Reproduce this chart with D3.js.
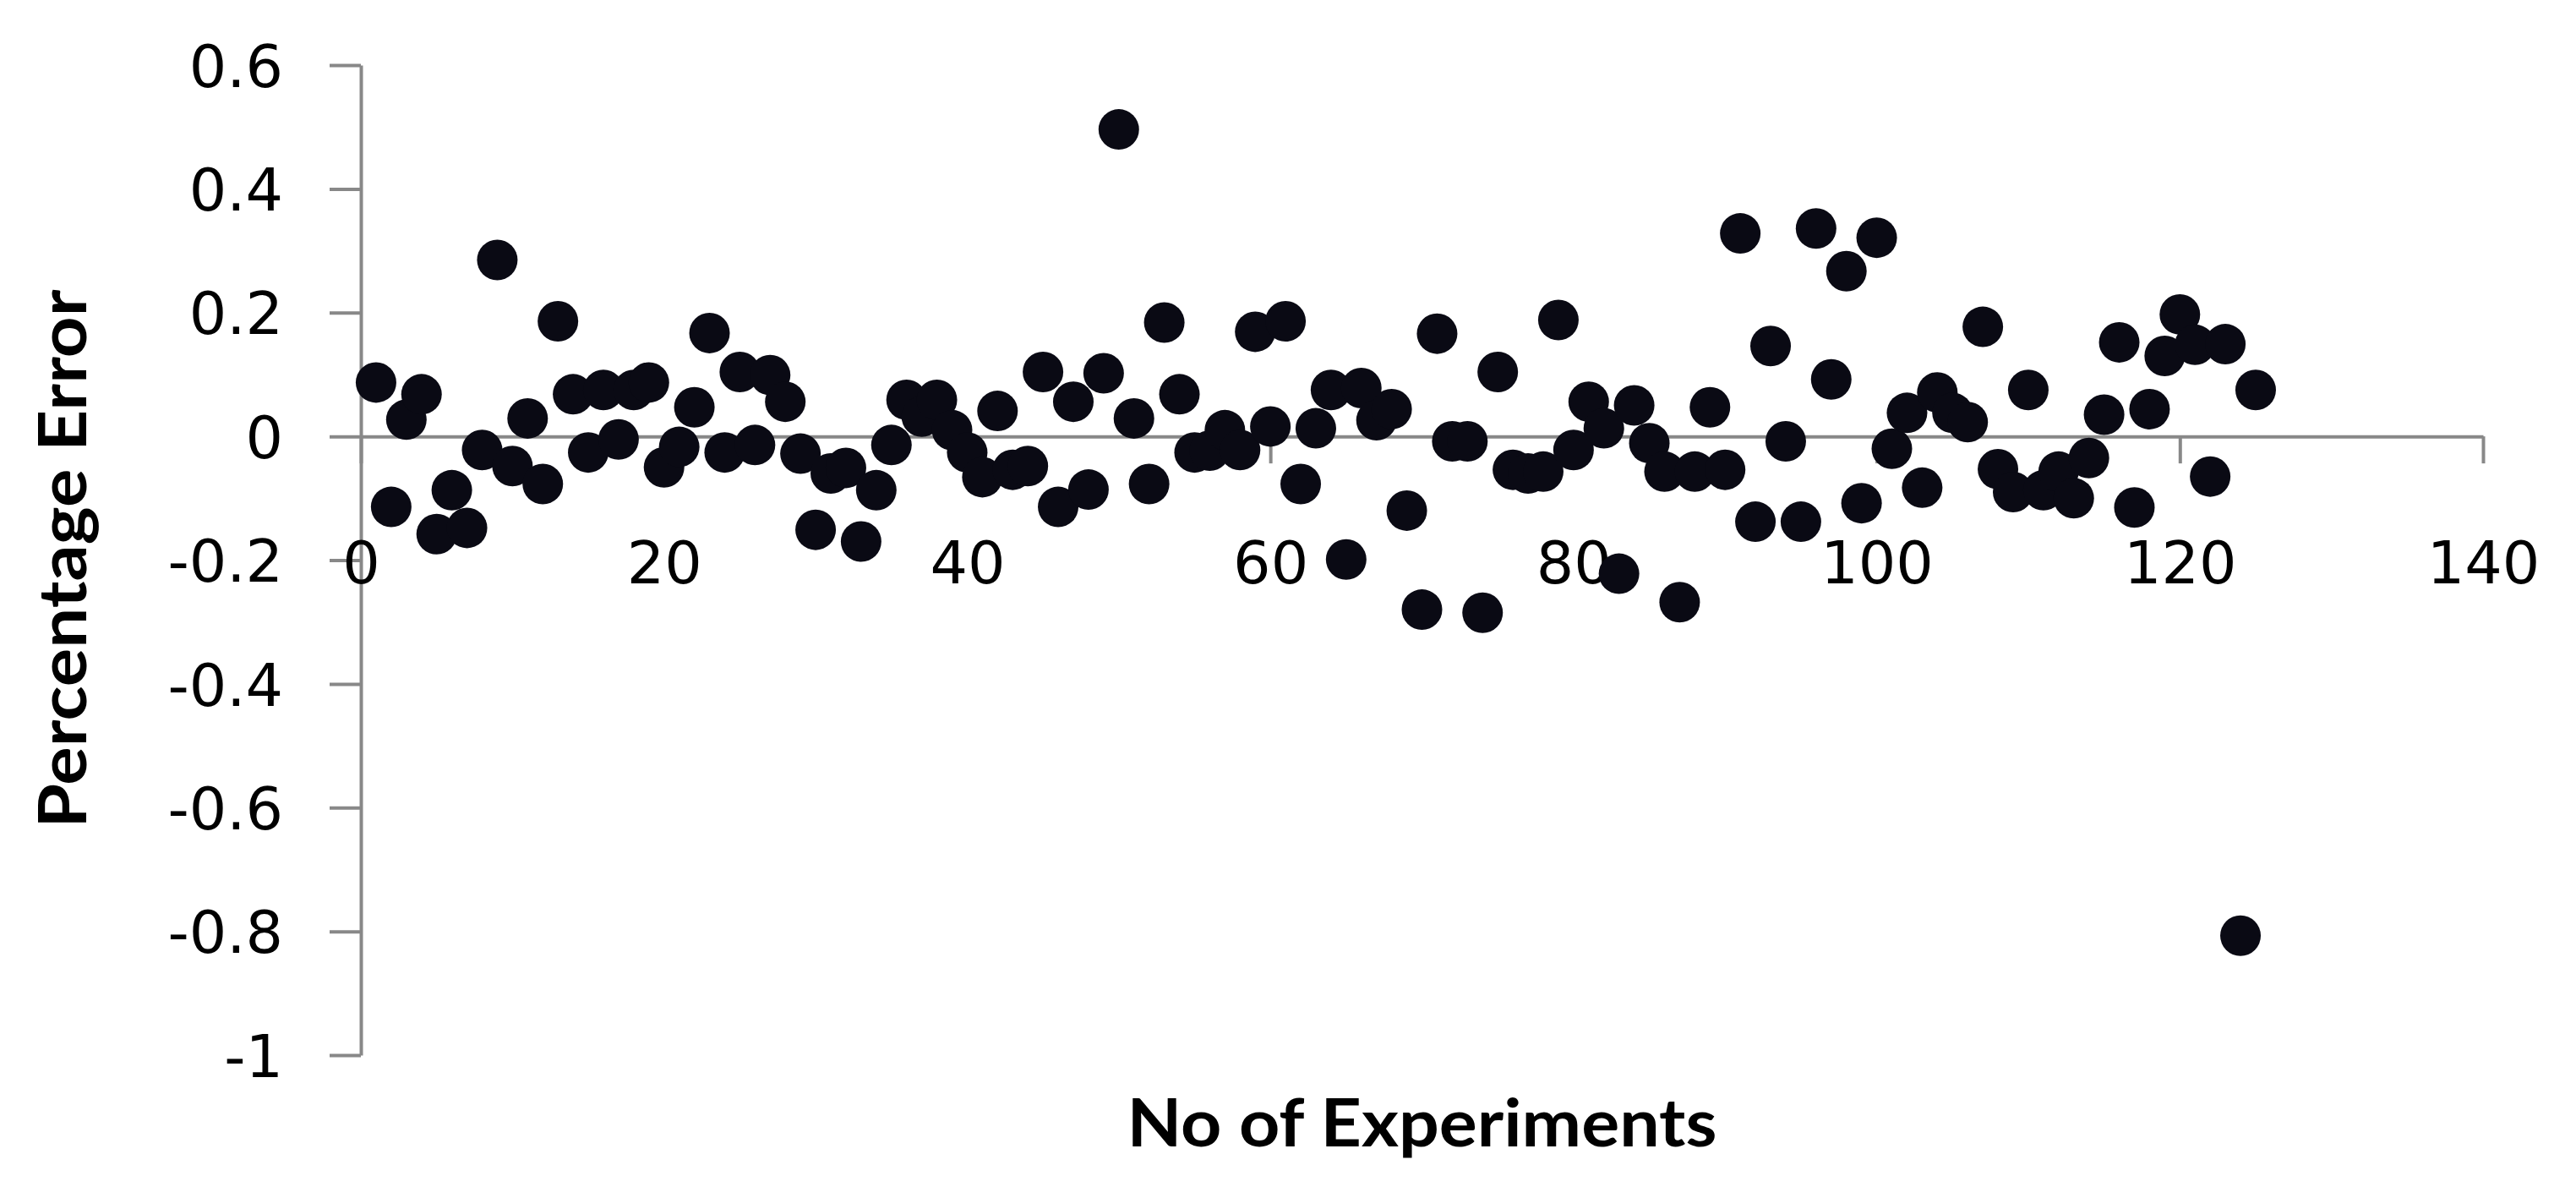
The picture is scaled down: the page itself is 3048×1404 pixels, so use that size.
<!DOCTYPE html>
<html>
<head>
<meta charset="utf-8">
<script src="https://cdn.jsdelivr.net/npm/d3@7"></script>
<style>
  body { margin: 0; background: #fff; }
  .axis path, .axis line { stroke: #888; stroke-width: 4; }
  .axis text { font-family: 'DejaVu Sans', Verdana, sans-serif; font-size: 70px; fill: #000; }
  .axis-title { font-family: Lato, 'Open Sans', sans-serif; font-weight: 700; font-size: 78px; fill: #000; }
</style>
</head>
<body>
<svg id="chart"></svg>
<script>
// Percentage error for each experiment (experiment number = position in list + 1)
const errorValues = [
  0.087, -0.114, 0.027, 0.068, -0.158, -0.087, -0.148, -0.022, 0.285, -0.048,
  0.029, -0.077, 0.186, 0.068, -0.026, 0.075, -0.005, 0.075, 0.087, -0.050,
  -0.017, 0.047, 0.167, -0.026, 0.104, -0.014, 0.099, 0.056, -0.028, -0.151,
  -0.060, -0.051, -0.170, -0.087, -0.014, 0.059, 0.032, 0.059, 0.010, -0.026,
  -0.066, 0.041, -0.054, -0.048, 0.104, -0.114, 0.056, -0.086, 0.102, 0.496,
  0.029, -0.077, 0.184, 0.068, -0.026, -0.023, 0.010, -0.022, 0.169, 0.016,
  0.186, -0.077, 0.013, 0.075, -0.199, 0.078, 0.026, 0.044, -0.120, -0.280,
  0.166, -0.008, -0.008, -0.285, 0.104, -0.054, -0.060, -0.057, 0.188, -0.022,
  0.056, 0.013, -0.222, 0.050, -0.011, -0.057, -0.268, -0.057, 0.047, -0.054,
  0.328, -0.138, 0.146, -0.008, -0.138, 0.336, 0.092, 0.267, -0.108, 0.321,
  -0.020, 0.038, -0.083, 0.071, 0.038, 0.023, 0.177, -0.053, -0.090, 0.075,
  -0.087, -0.057, -0.100, -0.035, 0.035, 0.152, -0.115, 0.044, 0.130, 0.197,
  0.148, -0.065, 0.149, -0.807, 0.075
];

const xTickValues = [0, 20, 40, 60, 80, 100, 120, 140];
const xTickLabels = ['0', '20', '40', '60', '80', '100', '120', '140'];
const yTickValues = [0.6, 0.4, 0.2, 0, -0.2, -0.4, -0.6, -0.8, -1];
const yTickLabels = ['0.6', '0.4', '0.2', '0', '-0.2', '-0.4', '-0.6', '-0.8', '-1'];
const xTitle = 'No of Experiments';
const yTitle = 'Percentage Error';

class ErrorScatter {

    constructor(_config, _data) {
        this.config = {
            parentElement: _config.parentElement,
            containerWidth: 3048,
            containerHeight: 1404,
            margin: {top: 77, right: 110, bottom: 156, left: 427},
            pointRadius: 24
        };
        this.data = _data;
        this.initVis();
    }

    initVis() {
        let vis = this;
        const m = vis.config.margin;

        vis.width = vis.config.containerWidth - m.left - m.right;
        vis.height = vis.config.containerHeight - m.top - m.bottom;

        vis.svg = d3.select(vis.config.parentElement)
            .attr('width', vis.config.containerWidth)
            .attr('height', vis.config.containerHeight);

        vis.svg.append('rect')
            .attr('width', vis.config.containerWidth)
            .attr('height', vis.config.containerHeight)
            .attr('fill', '#fff');

        vis.chart = vis.svg.append('g')
            .attr('transform', `translate(${m.left},${m.top})`);

        vis.xScale = d3.scaleLinear()
            .domain([0, 140])
            .range([0, vis.width]);

        vis.yScale = d3.scaleLinear()
            .domain([-1, 0.6])
            .range([vis.height, 0]);

        vis.renderVis();
    }

    renderVis() {
        let vis = this;

        // y axis on the left edge, ticks pointing out
        const yAxis = d3.axisLeft(vis.yScale)
            .tickValues(yTickValues)
            .tickFormat((d, i) => yTickLabels[i])
            .tickSize(37)
            .tickSizeOuter(0)
            .tickPadding(55);

        vis.chart.append('g')
            .attr('class', 'axis y-axis')
            .call(yAxis)
            .selectAll('text')
            .attr('dy', '0.36em');

        // x axis crosses at zero, labels sit lower down
        const xAxis = d3.axisBottom(vis.xScale)
            .tickValues(xTickValues)
            .tickFormat((d, i) => xTickLabels[i])
            .tickSize(32)
            .tickSizeOuter(0);

        const xg = vis.chart.append('g')
            .attr('class', 'axis x-axis')
            .attr('transform', `translate(0,${vis.yScale(0)})`)
            .call(xAxis);

        xg.selectAll('text')
            .attr('y', 149)
            .attr('dy', '0.36em');

        vis.chart.selectAll('.y-axis .domain, .x-axis .domain').attr('fill', 'none');

        // points
        vis.chart.selectAll('.point')
            .data(vis.data)
            .enter()
            .append('circle')
            .attr('class', 'point')
            .attr('cx', (d, i) => vis.xScale(i + 1))
            .attr('cy', d => vis.yScale(d))
            .attr('r', vis.config.pointRadius)
            .attr('fill', '#0a0a14');

        // axis titles
        vis.svg.append('text')
            .attr('class', 'axis-title')
            .attr('transform', 'translate(102,661) rotate(-90)')
            .attr('text-anchor', 'middle')
            .attr('textLength', 637)
            .attr('lengthAdjust', 'spacingAndGlyphs')
            .text(yTitle);

        vis.svg.append('text')
            .attr('class', 'axis-title')
            .attr('x', m_center(vis))
            .attr('y', 1356)
            .attr('text-anchor', 'middle')
            .attr('textLength', 698)
            .attr('lengthAdjust', 'spacingAndGlyphs')
            .text(xTitle);

        function m_center(v) {
            return v.config.margin.left + v.width / 2;
        }
    }
}

const chart = new ErrorScatter({parentElement: '#chart'}, errorValues);
</script>
</body>
</html>
